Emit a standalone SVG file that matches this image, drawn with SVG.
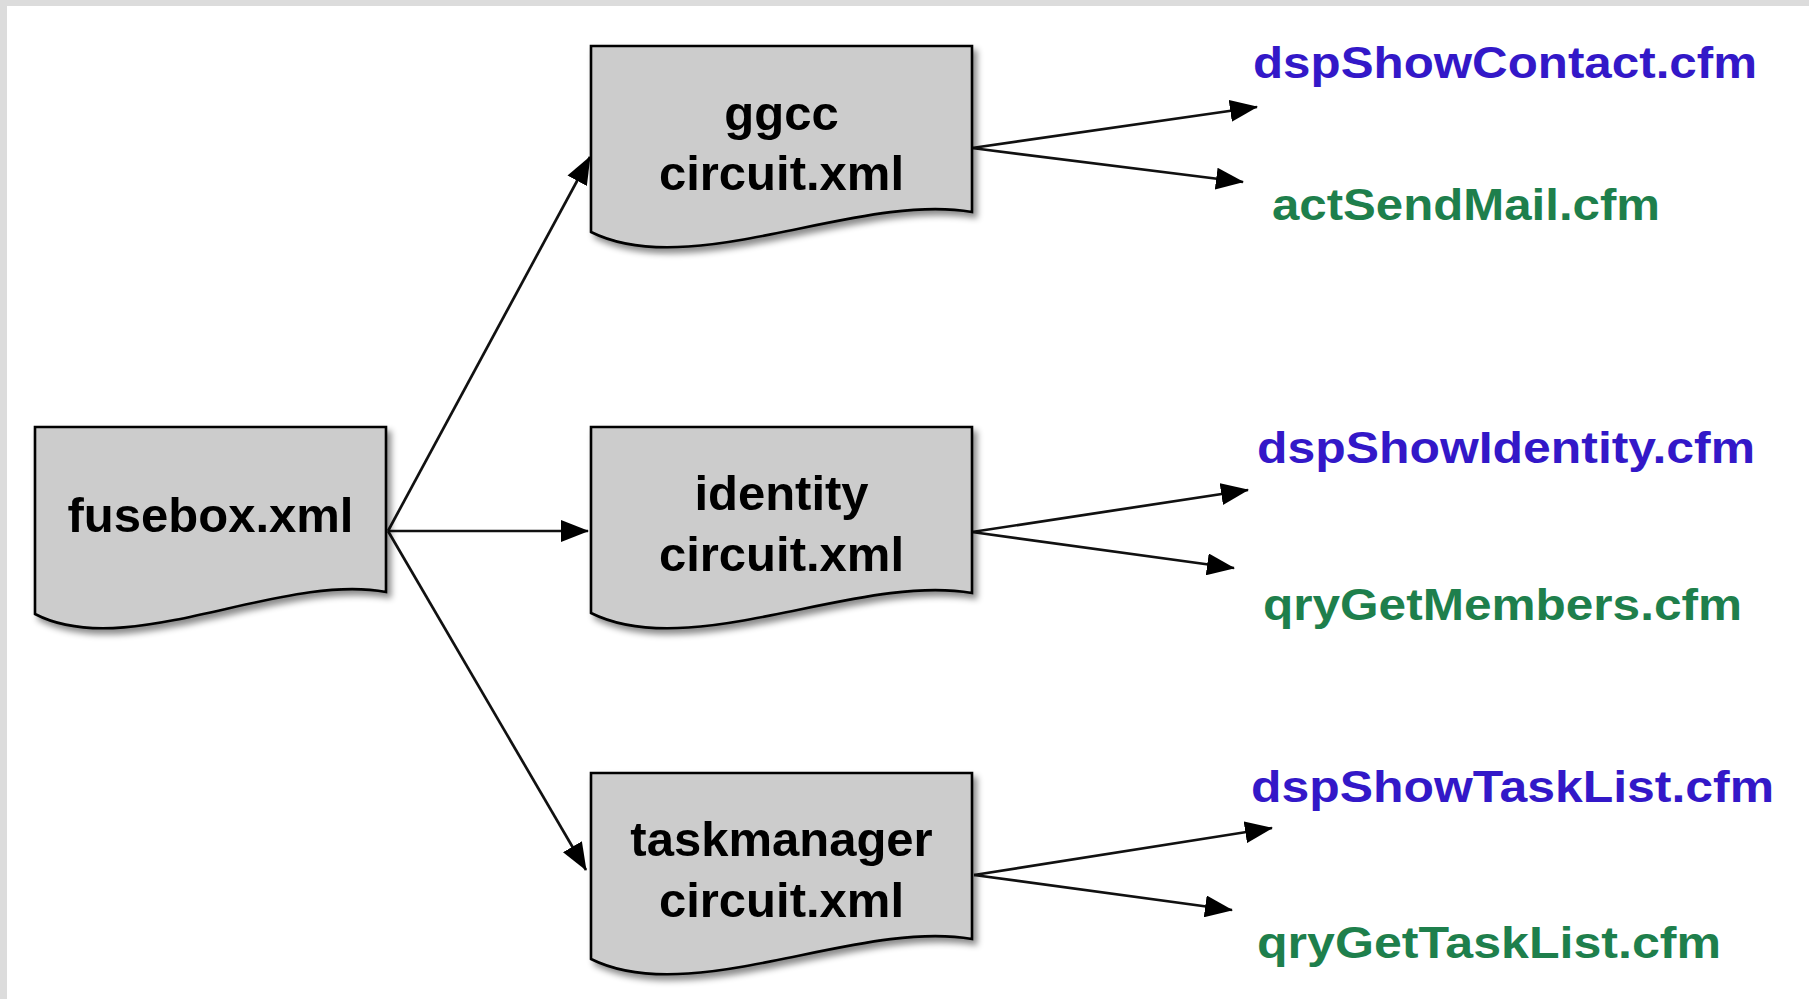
<svg xmlns="http://www.w3.org/2000/svg" width="1809" height="999" viewBox="0 0 1809 999">
  <style>
    .doc { fill: #cccccc; stroke: #000000; stroke-width: 2.6; stroke-linejoin: miter; filter: url(#shadow); }
    .boxtxt { font-family: "Liberation Sans", Arial, sans-serif; font-weight: bold; font-size: 49px; fill: #000000; text-anchor: middle; }
    .lbl { font-family: "Liberation Sans", Arial, sans-serif; font-weight: bold; font-size: 44px; }
    .dsp { fill: #3318c8; }
    .grn { fill: #1e7f4c; }
    .conn { stroke: #111111; stroke-width: 2.7; fill: none; marker-end: url(#arrow); }
  </style>
  <defs>
    <filter id="shadow" x="-10%" y="-10%" width="130%" height="140%">
      <feDropShadow dx="4" dy="5" stdDeviation="3" flood-color="#000000" flood-opacity="0.45"/>
    </filter>
    <marker id="arrow" markerUnits="userSpaceOnUse" markerWidth="28" markerHeight="22" refX="27" refY="11" orient="auto">
      <path d="M0,0 L28,11 L0,22 Z" fill="#000000"/>
    </marker>
  </defs>

  <rect x="0" y="0" width="1809" height="999" fill="#ffffff"/>
  <rect x="0" y="0" width="1809" height="6" fill="#dcdcdc"/>
  <rect x="0" y="0" width="7" height="999" fill="#dcdcdc"/>

  <g id="connectors">
    <line class="conn" x1="388" y1="531" x2="590" y2="157"/>
    <line class="conn" x1="388" y1="531" x2="588" y2="531"/>
    <line class="conn" x1="388" y1="531" x2="586" y2="870"/>
    <line class="conn" x1="972" y1="148" x2="1257" y2="107"/>
    <line class="conn" x1="972" y1="148" x2="1243" y2="182"/>
    <line class="conn" x1="972" y1="532" x2="1248" y2="490"/>
    <line class="conn" x1="972" y1="532" x2="1234" y2="568"/>
    <line class="conn" x1="974" y1="875" x2="1272" y2="828"/>
    <line class="conn" x1="974" y1="875" x2="1232" y2="910"/>
  </g>

  <g id="fusebox">
    <path class="doc" d="M35,427 H386 V592 C281,572 127,662 35,614 Z"/>
    <text class="boxtxt" x="210.5" y="532">fusebox.xml</text>
  </g>

  <g id="ggcc">
    <path class="doc" d="M591,46 H972 V212 C858,192 691,282 591,232 Z"/>
    <text class="boxtxt" x="781.5" y="130">ggcc</text>
    <text class="boxtxt" x="781.5" y="190">circuit.xml</text>
  </g>

  <g id="identity">
    <path class="doc" d="M591,427 H972 V593 C858,573 691,663 591,613 Z"/>
    <text class="boxtxt" x="781.5" y="510">identity</text>
    <text class="boxtxt" x="781.5" y="571">circuit.xml</text>
  </g>

  <g id="taskmanager">
    <path class="doc" d="M591,773 H972 V939 C858,919 691,1009 591,959 Z"/>
    <text class="boxtxt" x="781.5" y="856">taskmanager</text>
    <text class="boxtxt" x="781.5" y="917">circuit.xml</text>
  </g>

  <g id="dspShowContact">
    <text class="lbl dsp" x="1253" y="78" textLength="504" lengthAdjust="spacingAndGlyphs">dspShowContact.cfm</text>
  </g>
  <g id="actSendMail">
    <text class="lbl grn" x="1272" y="220" textLength="388" lengthAdjust="spacingAndGlyphs">actSendMail.cfm</text>
  </g>
  <g id="dspShowIdentity">
    <text class="lbl dsp" x="1257" y="463" textLength="498" lengthAdjust="spacingAndGlyphs">dspShowIdentity.cfm</text>
  </g>
  <g id="qryGetMembers">
    <text class="lbl grn" x="1263" y="620" textLength="479" lengthAdjust="spacingAndGlyphs">qryGetMembers.cfm</text>
  </g>
  <g id="dspShowTaskList">
    <text class="lbl dsp" x="1251" y="802" textLength="523" lengthAdjust="spacingAndGlyphs">dspShowTaskList.cfm</text>
  </g>
  <g id="qryGetTaskList">
    <text class="lbl grn" x="1257" y="958" textLength="464" lengthAdjust="spacingAndGlyphs">qryGetTaskList.cfm</text>
  </g>
</svg>
